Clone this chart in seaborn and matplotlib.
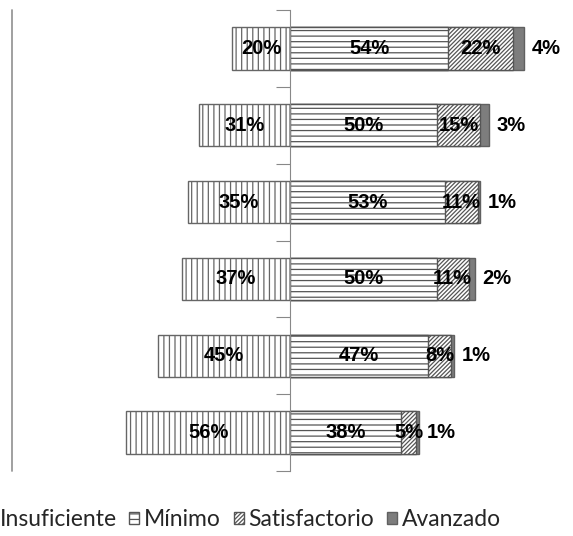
import pandas as pd
import seaborn as sns
import matplotlib.pyplot as plt
from matplotlib.patches import Patch

# datos por fila (de arriba a abajo)
filas = ['1', '2', '3', '4', '5', '6']
insuficiente = [20, 31, 35, 37, 45, 56]
minimo = [54, 50, 53, 50, 47, 38]
satisfactorio = [22, 15, 11, 11, 8, 5]
avanzado = [4, 3, 1, 2, 1, 1]
niveles = ['Insuficiente', 'Mínimo', 'Satisfactorio', 'Avanzado']

df = pd.DataFrame({'fila': filas, 'Insuficiente': insuficiente, 'Mínimo': minimo,
                   'Satisfactorio': satisfactorio, 'Avanzado': avanzado})
df['izq'] = -df['Insuficiente']
df['min_sat'] = df['Mínimo'] + df['Satisfactorio']
df['total'] = df['min_sat'] + df['Avanzado']

sns.set_style('white')
plt.rcParams['font.family'] = ['Liberation Sans', 'DejaVu Sans']
plt.rcParams['hatch.linewidth'] = 0.9

fig = plt.figure(figsize=(5.73, 5.36), dpi=100)
ax = fig.add_axes([12 / 573, 65 / 536, 561 / 573, 461 / 536])

# barras apiladas: se dibujan acumuladas de mayor a menor
capas = [
    ('izq', 'white', '#666666', '|||'),
    ('total', '#7d7d7d', '#606060', None),
    ('min_sat', 'white', '#555555', '////////'),
    ('Mínimo', 'white', '#555555', '---'),
]
for col, fc, ec, h in capas:
    sns.barplot(data=df, x=col, y='fila', orient='h', color=fc, saturation=1,
                edgecolor=ec, hatch=h, linewidth=1, width=0.55, errorbar=None, ax=ax)

for i in range(len(filas)):
    kw = dict(va='center', fontsize=14.5, fontweight='bold', color='black')
    ax.text(-insuficiente[i] / 2, i, f'{insuficiente[i]}%', ha='center', **kw)
    ax.text(minimo[i] / 2, i, f'{minimo[i]}%', ha='center', **kw)
    ax.text(minimo[i] + satisfactorio[i] / 2, i, f'{satisfactorio[i]}%', ha='center', **kw)
    ax.text(df['total'][i] + 2.5, i, f'{avanzado[i]}%', ha='left', **kw)

ax.set_xlim(-95, 96.6)
ax.set_ylim(5.5, -0.5)
ax.set_xticks([])
ax.set_yticks([k - 0.5 for k in range(len(filas) + 1)])
ax.set_yticklabels([])
ax.set_xlabel('')
ax.set_ylabel('')
for s in ['top', 'right', 'bottom']:
    ax.spines[s].set_visible(False)
ax.spines['left'].set_position(('data', 0))
ax.spines['left'].set_color('#888888')
ax.tick_params(axis='y', left=True, direction='out', length=10, color='#888888')
ax.axvline(-95, color='#999999', lw=1.3, clip_on=False)

handles = [
    Patch(facecolor='white', edgecolor='#555555', hatch='|||', label='Insuficiente'),
    Patch(facecolor='white', edgecolor='#555555', hatch='---', label='Mínimo'),
    Patch(facecolor='white', edgecolor='#555555', hatch='////////', label='Satisfactorio'),
    Patch(facecolor='#7d7d7d', edgecolor='#606060', label='Avanzado'),
]
fig.legend(handles=handles, loc='center left', bbox_to_anchor=(-0.047, 0.03), ncol=4,
           frameon=False, prop={'family': 'Lato', 'size': 16.5}, handlelength=0.45,
           handleheight=0.45, handletextpad=0.2, columnspacing=0.55, borderpad=0)

plt.savefig('out.png', dpi=100)
